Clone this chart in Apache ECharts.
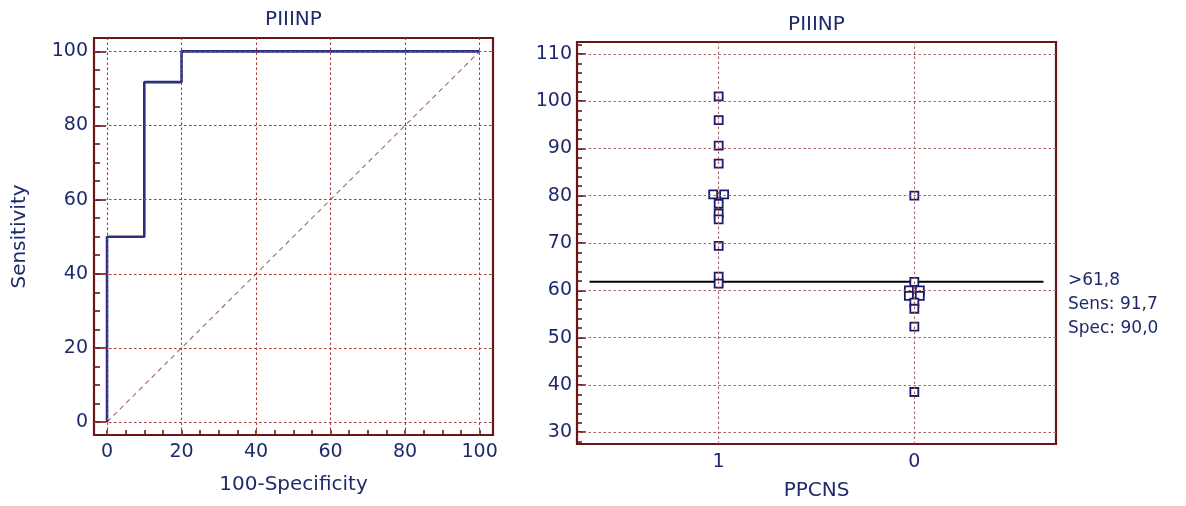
<!DOCTYPE html>
<html><head><meta charset="utf-8">
<script src="https://cdn.jsdelivr.net/npm/echarts@6/dist/echarts.min.js"></script>
<style>html,body{margin:0;padding:0;background:#fff}#c{width:1186px;height:506px}</style>
</head><body><div id="c"></div>
<script>
// ---- data ----
const plotTitle = 'PIIINP';
const rocFpr  = [0, 0, 10, 10, 20, 20, 100];        // 100-Specificity
const rocSens = [0, 50, 50, 91.7, 91.7, 100, 100];  // Sensitivity
const rocTicks = [0, 20, 40, 60, 80, 100];
const diagonal = [[0, 0], [100, 100]];
const groupCategories = ['1', '0'];                  // PPCNS
const group1 = [101, 96, 90.6, 86.8, 80.3, 80.3, 78.3, 76.2, 75, 69.4, 62.9, 61.4];
const group0 = [80, 61.8, 60, 60, 58.8, 58.8, 57.4, 56.1, 52.3, 38.5];
const criterion = 61.8;
const valueTicks = [30, 40, 50, 60, 70, 80, 90, 100, 110];

// ---- styles ----
const FONT = 'DejaVu Sans';
const NAVY = '#1f2a6b';
const FRAME = '#6b1616';
const GRIDL = '#a83a3a';
const GRIDR = '#a86262';
const range = (a, b, s) => { const r = []; for (let v = a; v <= b + 1e-9; v += s) r.push(+v.toFixed(6)); return r; };

function jittered(values, center, step) {
  const counts = {}, seen = {};
  values.forEach(v => counts[v] = (counts[v] || 0) + 1);
  return values.map(v => {
    const i = seen[v] = (seen[v] === undefined ? 0 : seen[v] + 1);
    return [center + (i - (counts[v] - 1) / 2) * step, v];
  });
}
const fmt = x => x.toFixed(1).replace('.', ',');
const sens = 100 * group1.filter(v => v > criterion).length / group1.length;
const spec = 100 * group0.filter(v => v <= criterion).length / group0.length;
const catPos = groupCategories.map(Number);
const catMid = (catPos[0] + catPos[1]) / 2;

const txt = (size) => ({ fontFamily: FONT, fontSize: size, color: NAVY });
const hiddenAxis = { axisLine: { show: false, onZero: false }, axisTick: { show: false }, axisLabel: { show: false }, splitLine: { show: false } };
const squareStyle = { color: '#fff', borderColor: '#1c1c6b', borderWidth: 1.8, opacity: 1 };

const chart = echarts.init(document.getElementById('c'), null, { renderer: 'canvas' });
chart.setOption({
  animation: false,
  grid: [
    { left: 94, top: 38, width: 399, height: 397, show: true, borderColor: FRAME, borderWidth: 2.2, backgroundColor: 'transparent' },
    { left: 577, top: 42, width: 479, height: 402, show: true, borderColor: FRAME, borderWidth: 2.2, backgroundColor: 'transparent' }
  ],
  xAxis: [
    { type: 'value', gridIndex: 0, position: 'bottom', min: -3.5, max: 103.6,
      axisLine: { show: false, onZero: false }, splitLine: { show: false },
      axisTick: { show: true, inside: true, length: 5, customValues: range(0, 100, 5), lineStyle: { color: FRAME, width: 1.6 } },
      axisLabel: { customValues: rocTicks, margin: 8, ...txt(19) },
      name: '100-Specificity', nameLocation: 'middle', nameGap: 40, nameTextStyle: txt(20) },
    { type: 'value', gridIndex: 0, position: 'top', min: -3.5, max: 103.6, ...hiddenAxis,
      name: plotTitle, nameLocation: 'middle', nameGap: 8, nameTextStyle: txt(20) },
    { type: 'value', gridIndex: 1, position: 'bottom', inverse: true, min: catPos[1] - 0.724, max: catPos[0] + 0.724,
      axisLine: { show: false, onZero: false }, splitLine: { show: false }, axisTick: { show: false },
      axisLabel: { customValues: catPos, margin: 9, formatter: v => groupCategories[catPos.indexOf(v)], ...txt(19) },
      name: 'PPCNS', nameLocation: 'middle', nameGap: 37, nameTextStyle: txt(20) },
    { type: 'value', gridIndex: 1, position: 'top', min: -0.724, max: 1.724, ...hiddenAxis,
      name: plotTitle, nameLocation: 'middle', nameGap: 7, nameTextStyle: txt(20) }
  ],
  yAxis: [
    { type: 'value', gridIndex: 0, position: 'left', min: -3.5, max: 103.6,
      axisLine: { show: false, onZero: false }, splitLine: { show: false },
      axisTick: { show: true, inside: true, length: 6, customValues: range(0, 100, 5), lineStyle: { color: FRAME, width: 1.6 } },
      axisLabel: { customValues: rocTicks, margin: 6, ...txt(19) },
      name: 'Sensitivity', nameLocation: 'middle', nameGap: 64, nameRotate: 90, nameTextStyle: txt(20) },
    { type: 'value', gridIndex: 0, position: 'left', min: -3.5, max: 103.6,
      axisLine: { show: false, onZero: false }, splitLine: { show: false }, axisLabel: { show: false },
      axisTick: { show: true, inside: true, length: 12, customValues: rocTicks, lineStyle: { color: FRAME, width: 1.6 } } },
    { type: 'value', gridIndex: 1, position: 'left', min: 27.5, max: 112.5,
      axisLine: { show: false, onZero: false }, splitLine: { show: false },
      axisTick: { show: true, inside: true, length: 5, customValues: range(28, 112, 2), lineStyle: { color: FRAME, width: 1.6 } },
      axisLabel: { customValues: valueTicks, margin: 5, ...txt(19) } },
    { type: 'value', gridIndex: 1, position: 'left', min: 27.5, max: 112.5,
      axisLine: { show: false, onZero: false }, splitLine: { show: false }, axisLabel: { show: false },
      axisTick: { show: true, inside: true, length: 9, customValues: valueTicks, lineStyle: { color: FRAME, width: 1.6 } } }
  ],
  series: [
    { name: 'gridL', type: 'scatter', xAxisIndex: 0, yAxisIndex: 0, data: [], z: 1, silent: true,
      markLine: { silent: true, symbol: 'none', label: { show: false }, animation: false,
        lineStyle: { color: GRIDL, type: [2.5, 2.5], width: 1.1, opacity: 1 },
        data: rocTicks.map(v => ({ xAxis: v })).concat(rocTicks.map(v => ({ yAxis: v }))) } },
    { name: 'diag', type: 'line', xAxisIndex: 0, yAxisIndex: 0, data: diagonal, z: 2, showSymbol: false, silent: true,
      lineStyle: { color: '#a06a6a', width: 1.1, type: [5, 4] } },
    { name: 'ROC', type: 'line', xAxisIndex: 0, yAxisIndex: 0, z: 3, showSymbol: false,
      data: rocFpr.map((x, i) => [x, rocSens[i]]), lineStyle: { color: '#2c2f7d', width: 2.6 } },
    { name: 'gridR', type: 'scatter', xAxisIndex: 2, yAxisIndex: 2, data: [], z: 1, silent: true,
      markLine: { silent: true, symbol: 'none', label: { show: false }, animation: false,
        lineStyle: { color: GRIDR, type: [2.5, 2.5], width: 1.1, opacity: 1 },
        data: catPos.map(v => ({ xAxis: v })).concat(valueTicks.map(v => ({ yAxis: v }))) } },
    { name: 'criterion', type: 'line', xAxisIndex: 2, yAxisIndex: 2, z: 3, showSymbol: false, silent: true,
      data: [[catMid + 1.16, criterion], [catMid - 1.16, criterion]], lineStyle: { color: '#000', width: 2 } },
    { name: 'criterionLabel', type: 'scatter', xAxisIndex: 2, yAxisIndex: 2, z: 3, silent: true,
      symbolSize: 1, itemStyle: { color: 'transparent', opacity: 1 },
      data: [[catMid - 1.16, criterion]],
      label: { show: true, position: [25, -13], align: 'left', verticalAlign: 'top', lineHeight: 24, opacity: 1, ...txt(17),
        formatter: '>' + fmt(criterion) + '\nSens: ' + fmt(sens) + '\nSpec: ' + fmt(spec) } },
    { name: 'PPCNS=1', type: 'scatter', xAxisIndex: 2, yAxisIndex: 2, z: 4, symbol: 'rect', symbolSize: 8,
      itemStyle: squareStyle, data: jittered(group1, catPos[0], 0.056) },
    { name: 'PPCNS=0', type: 'scatter', xAxisIndex: 2, yAxisIndex: 2, z: 4, symbol: 'rect', symbolSize: 8,
      itemStyle: squareStyle, data: jittered(group0, catPos[1], 0.056) }
  ]
});
</script></body></html>
